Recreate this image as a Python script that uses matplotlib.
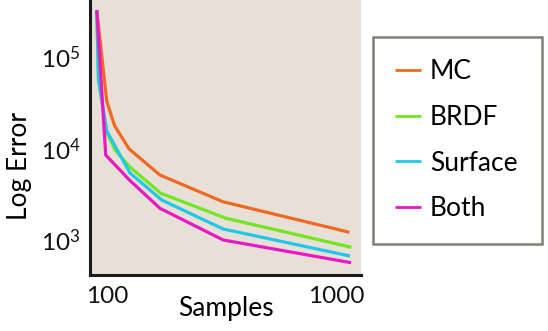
import matplotlib
matplotlib.use("Agg")
import matplotlib.pyplot as plt
from matplotlib.ticker import FixedLocator, NullLocator

# ── Data ─────────────────────────────────────────────────────────────────
x_mc      = [89.7, 99.2, 107.3, 124.3, 169.6, 320, 1144]
err_mc    = [326000, 33000, 17800, 9890, 5130, 2620, 1215]

x_brdf    = [89.7, 91.3, 99.2, 107.8, 124.6, 171.1, 330, 1168]
err_brdf  = [326000, 56100, 15100, 9640, 6350, 3240, 1727, 832]

x_surf    = [89.7, 91.3, 99.2, 125.4, 172.7, 321, 1152]
err_surf  = [326000, 56100, 15500, 5400, 2735, 1319, 668]

x_both    = [89.7, 98.2, 124.6, 169.6, 321, 1163]
err_both  = [326000, 8490, 4530, 2220, 1000, 565]

labels = ["MC", "BRDF", "Surface", "Both"]
colors = ["#EE6A22", "#72E61E", "#1EC8E6", "#E619C2"]

x_ticks = [100, 1000]
y_ticks = [1e3, 1e4, 1e5]

# ── Style ────────────────────────────────────────────────────────────────
plt.rcParams["font.family"] = ["Lato", "DejaVu Sans"]
plt.rcParams["mathtext.fontset"] = "custom"
plt.rcParams["mathtext.rm"] = "Lato"
plt.rcParams["mathtext.it"] = "Lato:italic"
plt.rcParams["mathtext.bf"] = "Lato:bold"

FS_TICK = 17.5
FS_LABEL = 19
FS_LEG = 19

fig = plt.figure(figsize=(5.48, 3.31), dpi=100)
ax = fig.add_axes([90/548, 1 - 275/331, 271/548, 275/331])
ax.set_facecolor("#E8E0D7")

series = [(x_mc, err_mc), (x_brdf, err_brdf), (x_surf, err_surf), (x_both, err_both)]
for (xs, ys), lab, col in zip(series, labels, colors):
    ax.plot(xs, ys, color=col, lw=2.3, label=lab,
            solid_capstyle="butt", solid_joinstyle="miter")

ax.set_xscale("log")
ax.set_yscale("log")
ax.set_xlim(83.8, 1286.6)
ax.set_ylim(414.6, 419800)

ax.xaxis.set_major_locator(FixedLocator(x_ticks))
ax.xaxis.set_minor_locator(NullLocator())
ax.set_xticklabels([str(t) for t in x_ticks])
ax.yaxis.set_major_locator(FixedLocator(y_ticks))
ax.yaxis.set_minor_locator(NullLocator())
ax.set_yticklabels([r"$\mathdefault{10^{%d}}$" % e for e in (3, 4, 5)])

ax.tick_params(axis="both", length=0, labelsize=FS_TICK, colors="#111111")
ax.tick_params(axis="x", pad=8)
ax.tick_params(axis="y", pad=7)

for side in ["top", "right"]:
    ax.spines[side].set_visible(False)
for side in ["left", "bottom"]:
    ax.spines[side].set_linewidth(2.2)
    ax.spines[side].set_color("#1a1a1a")

ax.set_xlabel("Samples", fontsize=FS_LABEL)
ax.set_ylabel("Log Error", fontsize=FS_LABEL)
ax.xaxis.set_label_coords(0.5, -0.075)
ax.yaxis.set_label_coords(-0.215, 0.396)

leg = fig.legend(loc="upper left", bbox_to_anchor=(373/548, 1 - 242/331, 169/548, 205/331),
                 mode="expand", borderaxespad=0, fontsize=FS_LEG, frameon=True,
                 fancybox=False, framealpha=1, edgecolor="#808078",
                 borderpad=0.85, labelspacing=0.78, handlelength=0.95, handletextpad=0.35)
leg.get_frame().set_linewidth(1.8)
for line in leg.get_lines():
    line.set_linewidth(2.0)

fig.savefig("out.png", dpi=100)
